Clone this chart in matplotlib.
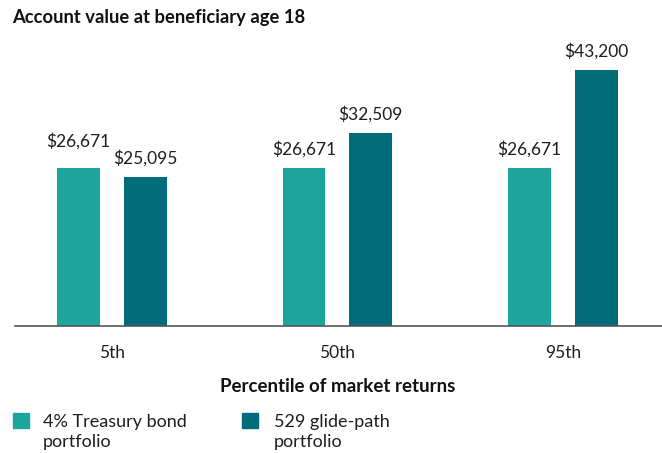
import numpy as np
import matplotlib.pyplot as plt
from matplotlib.patches import Rectangle

percentiles = ["5th", "50th", "95th"]
treasury = [26671, 26671, 26671]
glide_path = [25095, 32509, 43200]
series_names = ["4% Treasury bond\nportfolio", "529 glide-path\nportfolio"]
colours = ["#1ba59c", "#006c79"]

plt.rcParams["font.family"] = ["Lato", "DejaVu Sans"]
TXT = "#1e1e1e"

fig = plt.figure(figsize=(6.62, 4.53), dpi=100)
ax = fig.add_axes([15 / 662, 1 - 326 / 453, 1 - 15 / 662, (326 - 41) / 453])

x = np.arange(len(percentiles))
w = 0.19
off = 0.148
for k, (vals, dx, col) in enumerate(zip([treasury, glide_path], [-off, off], colours)):
    bars = ax.bar(x + dx, vals, width=w, color=col)
    for i, (b, v) in enumerate(zip(bars, vals)):
        lift = 1700
        # first pair sits close together, so the left label is pushed up
        if k == 0 and i == 0:
            lift += 1350
        ax.text(b.get_x() + b.get_width() / 2, v + lift, f"${v:,}",
                ha="center", va="bottom", fontsize=12.5, color=TXT)

ax.set_xlim(-0.43, 2.44)
ax.set_ylim(0, 48000)
ax.set_xticks(x)
ax.set_xticklabels(percentiles, fontsize=12.5, color=TXT)
ax.tick_params(axis="x", length=0, pad=14)
ax.set_yticks([])
for s in ["top", "right", "left"]:
    ax.spines[s].set_visible(False)
ax.spines["bottom"].set_color("#555555")
ax.spines["bottom"].set_linewidth(1.2)

fig.text(12 / 662, 1 - 18 / 453, "Account value at beneficiary age 18",
         fontsize=13.2, fontweight="bold", va="center", ha="left", color="#111111")
fig.text(338 / 662, 1 - 386 / 453, "Percentile of market returns",
         fontsize=13.5, fontweight="bold", va="center", ha="center", color="#111111")

# legend, drawn by hand
for name, col, sx, tx in zip(series_names, colours, [13, 242], [43, 274]):
    fig.patches.append(Rectangle((sx / 662, 1 - 428 / 453), 16 / 662, 15 / 453,
                                 transform=fig.transFigure, color=col))
    for j, line in enumerate(name.split("\n")):
        fig.text(tx / 662, 1 - (427 + 20 * j) / 453, line, fontsize=13,
                 va="baseline", ha="left", color=TXT)

fig.savefig("out.png", dpi=100)
